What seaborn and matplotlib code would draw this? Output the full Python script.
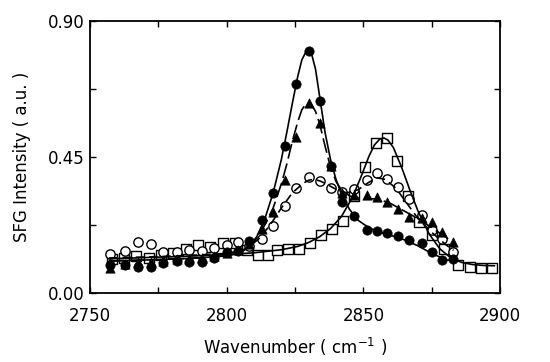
import matplotlib
matplotlib.use("Agg")
import matplotlib.pyplot as plt
from matplotlib.ticker import MultipleLocator
import seaborn as sns
import pandas as pd

sns.set_theme(style="ticks")
plt.rcParams['font.family'] = ['DejaVu Sans']

# ---- data ----
x_pts = [2757.3, 2762.8, 2767.4, 2772.2, 2776.8, 2781.7, 2786.3, 2790.9, 2795.5, 2800.0,
         2804.3, 2808.3, 2812.8, 2817.1, 2821.3, 2825.4, 2830.0, 2834.1, 2838.2, 2842.3,
         2846.6, 2851.2, 2854.9, 2858.5, 2862.8, 2866.8, 2871.3, 2875.2, 2878.9, 2882.9]
filled_circles = [0.092, 0.092, 0.086, 0.086, 0.097, 0.105, 0.102, 0.102, 0.114, 0.136,
                  0.139, 0.172, 0.240, 0.331, 0.485, 0.690, 0.800, 0.635, 0.418, 0.299,
                  0.254, 0.207, 0.205, 0.199, 0.187, 0.174, 0.163, 0.136, 0.108, 0.110]
filled_triangles = [0.080, 0.095, 0.100, 0.100, 0.105, 0.110, 0.112, 0.115, 0.120, 0.130,
                    0.140, 0.160, 0.210, 0.268, 0.373, 0.516, 0.626, 0.560, 0.420, 0.330,
                    0.323, 0.323, 0.318, 0.301, 0.276, 0.251, 0.246, 0.235, 0.202, 0.169]
open_circles = [0.128, 0.139, 0.167, 0.160, 0.136, 0.133, 0.141, 0.139, 0.147, 0.158,
                0.169, 0.154, 0.176, 0.222, 0.287, 0.347, 0.384, 0.369, 0.345, 0.332,
                0.342, 0.373, 0.395, 0.375, 0.351, 0.310, 0.257, 0.207, 0.176, 0.136]

x_sq = [2758.0, 2762.5, 2767.0, 2771.5, 2776.0, 2780.5, 2785.0, 2789.5, 2794.0, 2798.5,
        2803.0, 2807.5, 2811.5, 2815.0, 2818.5, 2822.5, 2826.5, 2830.5, 2834.5, 2838.5,
        2842.5, 2846.5, 2850.5, 2854.5, 2858.5, 2862.5, 2866.5, 2870.5, 2875.0, 2879.5,
        2884.5, 2889.0, 2893.0, 2897.0]
open_squares = [0.110, 0.115, 0.120, 0.115, 0.125, 0.130, 0.145, 0.157, 0.150, 0.165,
                0.165, 0.140, 0.125, 0.125, 0.141, 0.144, 0.144, 0.163, 0.191, 0.210,
                0.237, 0.320, 0.415, 0.496, 0.511, 0.435, 0.320, 0.235, 0.190, 0.145,
                0.092, 0.084, 0.080, 0.083]

# fitted curves
x_fit_fc = [2757, 2770, 2780, 2790, 2800, 2805, 2808, 2811, 2814, 2817, 2820, 2822, 2824,
            2826, 2827.5, 2829, 2830, 2831, 2832.5, 2834, 2836, 2838, 2840, 2842, 2845,
            2848, 2852, 2856, 2860, 2865, 2870, 2875, 2880, 2883]
fit_fc = [0.105, 0.108, 0.111, 0.115, 0.122, 0.132, 0.150, 0.185, 0.245, 0.330, 0.440,
          0.530, 0.625, 0.715, 0.770, 0.797, 0.800, 0.792, 0.740, 0.650, 0.530, 0.440,
          0.375, 0.325, 0.275, 0.240, 0.215, 0.200, 0.190, 0.175, 0.155, 0.130, 0.110,
          0.103]

x_fit_tr = [2757, 2770, 2780, 2790, 2800, 2805, 2808, 2811, 2814, 2817, 2820, 2822, 2824,
            2826, 2827.5, 2829, 2830, 2831, 2832.5, 2834, 2836, 2838, 2840, 2842, 2845,
            2848, 2852, 2856, 2860, 2865, 2870, 2875, 2880, 2883]
fit_tr = [0.105, 0.108, 0.111, 0.115, 0.122, 0.132, 0.148, 0.180, 0.225, 0.280, 0.360,
          0.425, 0.500, 0.565, 0.605, 0.625, 0.628, 0.622, 0.600, 0.560, 0.485, 0.415,
          0.368, 0.340, 0.320, 0.313, 0.312, 0.308, 0.295, 0.270, 0.245, 0.215, 0.185,
          0.165]

x_fit_oc = [2757, 2770, 2780, 2790, 2800, 2805, 2808, 2812, 2816, 2820, 2824, 2828, 2830,
            2832, 2834, 2836, 2840, 2844, 2848, 2852, 2855, 2858, 2862, 2866, 2870, 2875,
            2880, 2883]
fit_oc = [0.115, 0.118, 0.121, 0.125, 0.130, 0.138, 0.150, 0.180, 0.225, 0.280, 0.330,
          0.362, 0.372, 0.375, 0.370, 0.362, 0.342, 0.330, 0.340, 0.365, 0.380, 0.375,
          0.345, 0.295, 0.245, 0.200, 0.160, 0.140]

x_fit_sq = [2757, 2770, 2780, 2790, 2800, 2810, 2820, 2826, 2830, 2834, 2838, 2842, 2846,
            2849, 2852, 2854, 2856, 2857.5, 2859, 2861, 2864, 2867, 2870, 2874, 2878, 2882,
            2886, 2890, 2894, 2898]
fit_sq = [0.112, 0.116, 0.119, 0.122, 0.126, 0.132, 0.142, 0.153, 0.166, 0.185, 0.212,
          0.252, 0.315, 0.380, 0.450, 0.488, 0.508, 0.512, 0.505, 0.480, 0.415, 0.340,
          0.270, 0.195, 0.145, 0.115, 0.100, 0.093, 0.090, 0.089]

x_ticks = [2750, 2800, 2850, 2900]
y_ticks = [0.00, 0.45, 0.90]
x_label = "Wavenumber ( cm$^{-1}$ )"
y_label = "SFG Intensity ( a.u. )"

fig = plt.figure(figsize=(5.5, 3.62), dpi=100)
ax = fig.add_axes([0.1636, 0.1915, 0.7455, 0.7515])

lw = 1.2
sns.lineplot(x=x_fit_sq, y=fit_sq, ax=ax, color="black", lw=lw, zorder=4)
sns.lineplot(x=x_fit_oc, y=fit_oc, ax=ax, color="black", lw=lw, zorder=4,
             linestyle=(0, (5, 3)))
sns.lineplot(x=x_fit_tr, y=fit_tr, ax=ax, color="black", lw=lw, zorder=4,
             linestyle=(0, (9, 3)))
sns.lineplot(x=x_fit_fc, y=fit_fc, ax=ax, color="black", lw=lw, zorder=4)

ms = 45
sns.scatterplot(x=x_sq, y=open_squares, ax=ax, marker="s", s=42, facecolor="white",
                edgecolor="black", linewidth=1.0, zorder=3)
sns.scatterplot(x=x_pts, y=open_circles, ax=ax, marker="o", s=ms, facecolor="white",
                edgecolor="black", linewidth=1.0, zorder=3)
sns.scatterplot(x=x_pts, y=filled_triangles, ax=ax, marker="^", s=ms, color="black",
                edgecolor="black", linewidth=0.5, zorder=5)
sns.scatterplot(x=x_pts, y=filled_circles, ax=ax, marker="o", s=ms, color="black",
                edgecolor="black", linewidth=0.5, zorder=5)

ax.set_xlim(2750, 2900)
ax.set_ylim(0, 0.9)
ax.set_xticks(x_ticks)
ax.set_yticks(y_ticks)
ax.set_yticklabels([f"{v:.2f}" for v in y_ticks])
ax.xaxis.set_minor_locator(MultipleLocator(25))
ax.yaxis.set_minor_locator(MultipleLocator(0.225))
ax.tick_params(which="both", direction="in", top=True, right=True, length=4,
               width=1.0, color="black", labelsize=12, labelcolor="black")
ax.tick_params(axis="x", pad=10)
ax.tick_params(axis="y", pad=4)
for s in ax.spines.values():
    s.set_linewidth(1.3)
    s.set_color("black")
ax.set_xlabel(x_label, fontsize=12, labelpad=8, color="black")
ax.set_ylabel(y_label, fontsize=12, labelpad=12, color="black")

fig.savefig("out.png", dpi=100, facecolor="white")
